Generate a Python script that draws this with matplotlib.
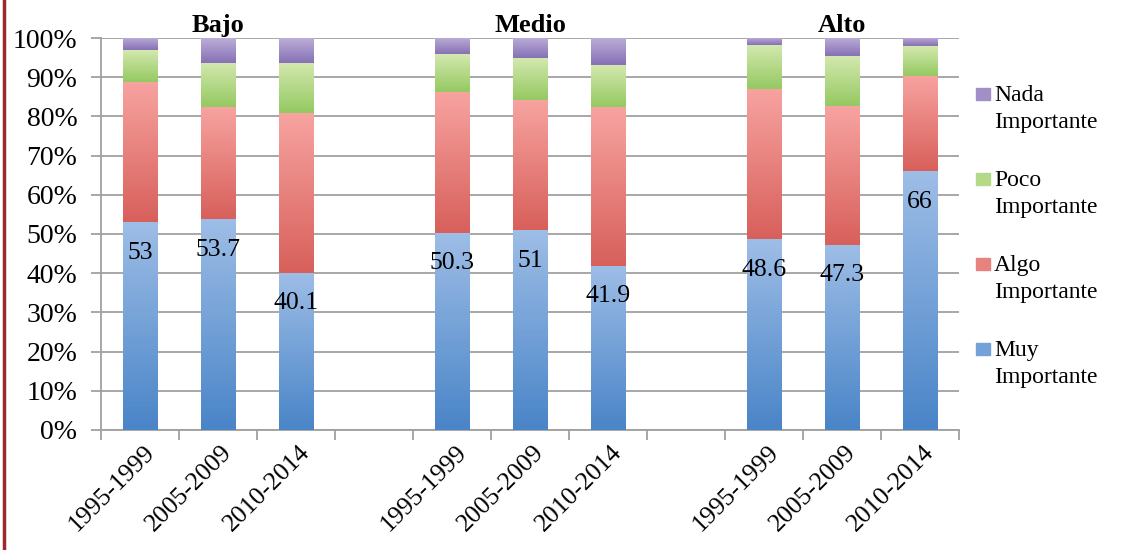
import numpy as np
import matplotlib.pyplot as plt
import matplotlib.colors as mcolors
import matplotlib.transforms as mtransforms
from matplotlib.patches import Rectangle

groups = ['Bajo', 'Medio', 'Alto']
periods = ['1995-1999', '2005-2009', '2010-2014']
series = ['Muy\nImportante', 'Algo\nImportante', 'Poco\nImportante', 'Nada\nImportante']

muy = [53, 53.7, 40.1, 50.3, 51, 41.9, 48.6, 47.3, 66]
algo = [35.9, 28.7, 40.7, 36.0, 33.2, 40.5, 38.4, 35.3, 24.3]
poco = [8.0, 11.3, 12.9, 9.5, 10.6, 10.6, 11.1, 12.7, 7.6]
nada = [3.1, 6.3, 6.3, 4.2, 5.2, 7.0, 1.9, 4.7, 2.1]

# (top colour, bottom colour) for the Excel style gradient fill
grads = [('#9dbde6', '#4a85c8'),
         ('#f7a3a0', '#d8605b'),
         ('#d3e8ae', '#95c962'),
         ('#bcaed8', '#8671b5')]

plt.rcParams['font.family'] = ['Liberation Serif', 'DejaVu Serif']

W, H = 1125, 550
fig = plt.figure(figsize=(W / 100, H / 100), dpi=100)
ax = fig.add_axes([0.0898, 0.2182, 0.7627, 0.7127])

# 11 category slots: 3 bars, empty, 3 bars, empty, 3 bars
xpos = [0, 1, 2, 4, 5, 6, 8, 9, 10]
width = 0.44


def grad_fill(patch, top, bottom):
    x, y = patch.get_xy()
    w, h = patch.get_width(), patch.get_height()
    cmap = mcolors.LinearSegmentedColormap.from_list('g', [bottom, top])
    img = ax.imshow(np.linspace(0, 1, 64).reshape(-1, 1), cmap=cmap,
                    extent=[x, x + w, y, y + h], origin='lower',
                    aspect='auto', zorder=3)
    img.set_clip_path(patch)


bottom = np.zeros(len(xpos))
legend_cols = []
for vals, (top_c, bot_c) in zip([muy, algo, poco, nada], grads):
    bars = ax.bar(xpos, vals, width, bottom=bottom, color=bot_c,
                  linewidth=0, zorder=2)
    for p in bars:
        grad_fill(p, top_c, bot_c)
    legend_cols.append((top_c, bot_c))
    bottom += np.array(vals)

ax.set_xlim(-0.5, 10.5)
ax.set_ylim(0, 100)

# data labels for "Muy Importante", inside end
for x, v in zip(xpos, muy):
    ax.annotate(f'{v:g}', (x, v), xytext=(0, -22), textcoords='offset points',
                ha='center', va='center', fontsize=18.5, zorder=5)

# group titles
for i, g in enumerate(groups):
    ax.text(xpos[i * 3 + 1], 100.2, g, ha='center', va='bottom',
            fontsize=19, fontweight='bold')

ax.set_yticks(range(0, 101, 10))
ax.set_yticklabels([f'{t}%' for t in range(0, 101, 10)], fontsize=20)
ax.yaxis.grid(True, color='#a0a0a0', linewidth=1.3)
ax.set_axisbelow(True)
ax.tick_params(axis='y', length=7, color='#a0a0a0', width=1.3, pad=10)

ax.set_xticks(xpos)
ax.set_xticklabels(periods * 3, rotation=45, ha='right', va='top',
                   rotation_mode='anchor', fontsize=18.5)
ax.set_xticks(np.arange(-0.5, 11, 1), minor=True)
ax.tick_params(axis='x', which='major', length=0, pad=8)
ax.tick_params(axis='x', which='minor', length=7, color='#a0a0a0', width=1.3)
shift = mtransforms.ScaledTranslation(0.03, 0, fig.dpi_scale_trans)
for lab in ax.get_xticklabels():
    lab.set_transform(lab.get_transform() + shift)

for s in ['top', 'right']:
    ax.spines[s].set_visible(False)
for s in ['left', 'bottom']:
    ax.spines[s].set_color('#a0a0a0')
    ax.spines[s].set_linewidth(1.3)

# legend, drawn by hand: marker beside the first line of each label
for i, (name, (top_c, bot_c)) in enumerate(zip(series[::-1], legend_cols[::-1])):
    yc = 94 + 85 * i  # pixel row of the first text line
    mid = np.mean([mcolors.to_rgb(top_c), mcolors.to_rgb(bot_c)], axis=0)
    fig.add_artist(Rectangle((976 / W, 1 - (yc + 6) / H), 14 / W, 12 / H,
                             color=mid, transform=fig.transFigure))
    fig.text(994 / W, 1 - (yc - 9) / H, name, ha='left', va='top',
             fontsize=17, linespacing=1.4)

# red border line on the left edge
fig.add_artist(plt.Line2D([3.5 / W, 3.5 / W], [0, 1], color='#a0282d',
                          linewidth=2.5, transform=fig.transFigure))

fig.savefig('out.png', dpi=100)
